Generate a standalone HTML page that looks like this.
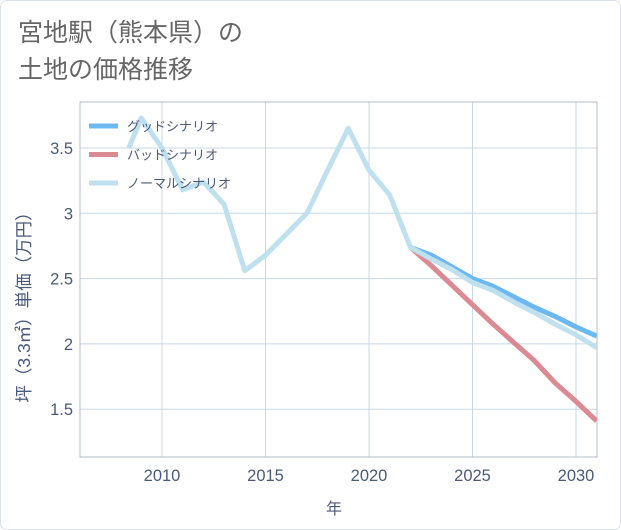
<!DOCTYPE html>
<html><head><meta charset="utf-8"><style>
body{margin:0;background:#fff;}
#wrap{width:621px;height:530px;position:relative;background:#fff;border-radius:6px;overflow:hidden;font-family:"Liberation Sans","Noto Sans CJK JP",sans-serif;}
</style></head><body>
<div id="wrap">
<svg id="chart" width="621" height="530" xmlns="http://www.w3.org/2000/svg">
<rect x="0.5" y="0.5" width="620" height="529" rx="6" fill="#fff" stroke="#dde3ea"/>
<text x="18" y="41" font-size="25" fill="#666" font-family="Liberation Sans, Noto Sans CJK JP, sans-serif">宮地駅（熊本県）の</text>
<text x="18" y="78" font-size="25" fill="#666" font-family="Liberation Sans, Noto Sans CJK JP, sans-serif">土地の価格推移</text>
<g id="grid"></g><g id="lines"></g><g id="legend"></g>
<text x="334" y="514" font-size="16" fill="#4a5a7a" text-anchor="middle" font-family="Liberation Sans, Noto Sans CJK JP, sans-serif">年</text>
<text transform="translate(30,303) rotate(-90)" font-size="17.5" fill="#4a5a7a" text-anchor="middle" font-family="Liberation Sans, Noto Sans CJK JP, sans-serif">坪（3.3㎡）単価（万円）</text>
</svg></div>
<script>
const xTicks=[2010,2015,2020,2025,2030];
const yTicks=[1.5,2,2.5,3,3.5];
const normalYears=[2008.4,2009,2010,2011,2012,2013,2014,2015,2016,2017,2018,2019,2020,2021,2022,2023,2024,2025,2026,2027,2028,2029,2030,2031];
const normalVals=[3.5,3.73,3.5,3.18,3.24,3.07,2.56,2.68,2.84,3.0,3.33,3.65,3.33,3.14,2.74,2.65,2.57,2.47,2.41,2.32,2.24,2.15,2.07,1.97];
const futureYears=[2022,2023,2024,2025,2026,2027,2028,2029,2030,2031];
const goodVals=[2.74,2.68,2.59,2.5,2.44,2.36,2.28,2.21,2.13,2.06];
const badVals=[2.74,2.6,2.45,2.3,2.15,2.01,1.87,1.7,1.56,1.41];
const L=80,R=597,T=102,B=457;
const x=v=>162+(v-2010)*20.7;
const y=v=>148-(v-3.5)*130.6;
const NS="http://www.w3.org/2000/svg";
function mk(tag,attrs,parent,text){const e=document.createElementNS(NS,tag);for(const k in attrs)e.setAttribute(k,attrs[k]);if(text!==undefined)e.textContent=text;parent.appendChild(e);return e;}
const grid=document.getElementById('grid'),lines=document.getElementById('lines'),legend=document.getElementById('legend');
xTicks.forEach(t=>{
 const l=mk('line',{x1:x(t),x2:x(t),y1:T,y2:B,stroke:'#c8d8e6','stroke-width':1},grid);
 
 
 const tx=mk('text',{x:x(t),y:B+24,'font-size':16.5,fill:'#4a5a7a','text-anchor':'middle'},grid,String(t));
 
 
});
yTicks.forEach(t=>{
 const l=mk('line',{x1:L,x2:R,y1:y(t),y2:y(t),stroke:'#c8d8e6','stroke-width':1},grid);
 
 
 const tx=mk('text',{x:L-7,y:y(t)+6,'font-size':16.5,fill:'#4a5a7a','text-anchor':'end'},grid,String(t));
 
 
});
const fr=mk('rect',{x:L,y:T,width:R-L,height:B-T,fill:'none',stroke:'#b0bcc8','stroke-width':1},grid);


const cp=mk('clipPath',{id:'cp'},lines);mk('rect',{x:L,y:T,width:R-L,height:B-T},cp);
function series(xs,vs,color,name){
 const d=xs.map((v,i)=>(i?'L':'M')+x(v).toFixed(1)+','+y(vs[i]).toFixed(1)).join(' ');
 const p=mk('path',{d:d,fill:'none',stroke:color,'stroke-width':5,'stroke-linejoin':'round','clip-path':'url(#cp)'},lines);
 
 
}
series(futureYears,goodVals,'#6cb8f0','good-scenario-line');
series(futureYears,badVals,'#dc8a92','bad-scenario-line');
series(normalYears,normalVals,'#bfe0ee','normal-scenario-line');
const items=[['グッドシナリオ','#6cb8f0','legend-good'],['バッドシナリオ','#dc8a92','legend-bad'],['ノーマルシナリオ','#bfe0ee','legend-normal']];
items.forEach((it,i)=>{
 const g=mk('g',{},legend);
 
 
 const yy=126+i*28.5;
 mk('line',{x1:89,x2:118,y1:yy,y2:yy,stroke:it[1],'stroke-width':5},g);
 mk('text',{x:127,y:yy+5,'font-size':13,fill:'#4a5a7a','font-family':'Liberation Sans, Noto Sans CJK JP, sans-serif'},g,it[0]);
});
</script>
</body></html>
